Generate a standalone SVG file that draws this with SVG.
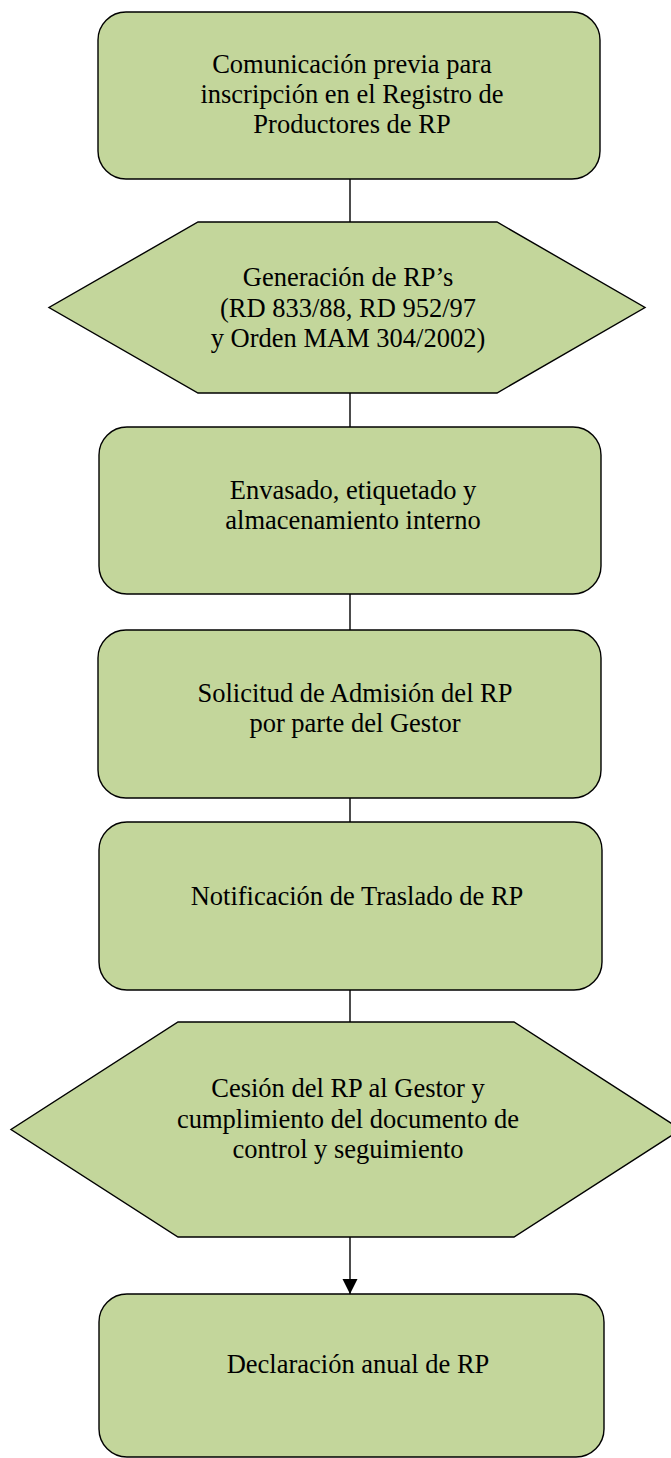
<svg xmlns="http://www.w3.org/2000/svg" width="671" height="1458" viewBox="0 0 671 1458">
<style>
.shape{fill:#c3d69b;stroke:#000;stroke-width:1.4}
.conn{stroke:#000;stroke-width:1.4;fill:none}
text{font-family:"Liberation Serif","Times New Roman",serif;font-size:26.5px;fill:#000;text-anchor:middle}
</style>
<defs>
<marker id="arrow" markerUnits="userSpaceOnUse" markerWidth="16" markerHeight="16" viewBox="0 0 16 16" refX="15" refY="8" orient="auto">
<path d="M0,0.5 L15,8 L0,15.5 Z" fill="#000"/>
</marker>
</defs>
<g id="connectors">
<line class="conn" x1="350" y1="179" x2="350" y2="222"/>
<line class="conn" x1="350" y1="393" x2="350" y2="427"/>
<line class="conn" x1="350" y1="594" x2="350" y2="630"/>
<line class="conn" x1="350" y1="798" x2="350" y2="822"/>
<line class="conn" x1="350" y1="990" x2="350" y2="1022"/>
<line class="conn" x1="350" y1="1237" x2="350" y2="1294" marker-end="url(#arrow)"/>
</g>
<g id="node1">
<rect class="shape" x="98" y="12" width="502" height="167" rx="28" ry="28"/>
<text x="352" y="73">Comunicación previa para</text>
<text x="352" y="103">inscripción en el Registro de</text>
<text x="352" y="133">Productores de RP</text>
</g>
<g id="node2">
<polygon class="shape" points="198,222 497,222 645,307.5 497,393 198,393 49,307.5"/>
<text x="348" y="286">Generación de RP’s</text>
<text x="348" y="317">(RD 833/88, RD 952/97</text>
<text x="348" y="347">y Orden MAM 304/2002)</text>
</g>
<g id="node3">
<rect class="shape" x="99" y="427" width="502" height="167" rx="28" ry="28"/>
<text x="353" y="499">Envasado, etiquetado y</text>
<text x="353" y="529">almacenamiento interno</text>
</g>
<g id="node4">
<rect class="shape" x="98" y="630" width="503" height="168" rx="28" ry="28"/>
<text x="355" y="702">Solicitud de Admisión del RP</text>
<text x="355" y="732">por parte del Gestor</text>
</g>
<g id="node5">
<rect class="shape" x="99" y="822" width="503" height="168" rx="28" ry="28"/>
<text x="357" y="905">Notificación de Traslado de RP</text>
</g>
<g id="node6">
<polygon class="shape" points="178,1022 514,1022 681,1129.5 514,1237 178,1237 11,1129.5"/>
<text x="348" y="1097">Cesión del RP al Gestor y</text>
<text x="348" y="1127.5">cumplimiento del documento de</text>
<text x="348" y="1158">control y seguimiento</text>
</g>
<g id="node7">
<rect class="shape" x="99" y="1294" width="505" height="163" rx="28" ry="28"/>
<text x="358" y="1373">Declaración anual de RP</text>
</g>
</svg>
